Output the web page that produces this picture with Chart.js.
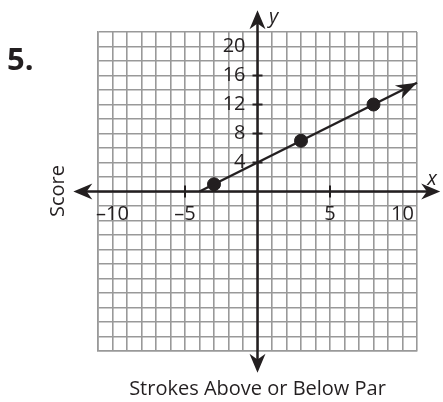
<!DOCTYPE html>
<html>
<head>
<meta charset="utf-8">
<script src="https://cdn.jsdelivr.net/npm/chart.js@4/dist/chart.umd.min.js"></script>
<style>
  html, body { margin: 0; padding: 0; background: #fff; }
  #chart { display: block; }
</style>
</head>
<body>
<canvas id="chart" width="443" height="402"></canvas>
<script>
// data
const pointX = [-3, 3, 8];
const pointY = [1, 7, 12];
const lineX = [-4, 11];      // line starts on the x axis, ends in an arrow
const lineY = [0, 15];
const xTickLabels = [-10, -5, 5, 10];
const yTickLabels = [4, 8, 12, 16, 20];
const xTickMarks = [-5, 5];
const yTickMarks = [4, 8, 12, 16];
const axisXEnds = [-12.7, 12.6]; // arrows of the axes go past the grid
const axisYEnds = [-25, 25];

const ink = '#231f20';
const font = '"Open Sans", sans-serif';

// arrowhead with a notch at the back
function arrowHead(ctx, x, y, angle, len, half) {
    ctx.save();
    ctx.translate(x, y);
    ctx.rotate(angle);
    ctx.beginPath();
    ctx.moveTo(0, 0);
    ctx.lineTo(-len, -half);
    ctx.lineTo(-len * 0.7, 0);
    ctx.lineTo(-len, half);
    ctx.closePath();
    ctx.fillStyle = ink;
    ctx.fill();
    ctx.restore();
}

const axesPlugin = {
    id: 'axesPlugin',
    afterDatasetsDraw(chart) {
        const ctx = chart.ctx;
        const xs = chart.scales.x;
        const ys = chart.scales.y;
        const x0 = xs.getPixelForValue(0);
        const y0 = ys.getPixelForValue(0);
        const xl = xs.getPixelForValue(axisXEnds[0]);
        const xr = xs.getPixelForValue(axisXEnds[1]);
        const yb = ys.getPixelForValue(axisYEnds[0]);
        const yt = ys.getPixelForValue(axisYEnds[1]);

        ctx.save();
        ctx.strokeStyle = ink;
        ctx.lineWidth = 2.5;
        ctx.beginPath();
        ctx.moveTo(xl + 8, y0); ctx.lineTo(xr - 8, y0);
        ctx.moveTo(x0, yt + 8); ctx.lineTo(x0, yb - 8);
        ctx.stroke();
        arrowHead(ctx, xl, y0, Math.PI, 19, 8);
        arrowHead(ctx, xr, y0, 0, 19, 8);
        arrowHead(ctx, x0, yt, -Math.PI / 2, 19, 8);
        arrowHead(ctx, x0, yb, Math.PI / 2, 19, 8);

        // tick marks
        ctx.lineWidth = 2;
        ctx.beginPath();
        xTickMarks.forEach(v => {
            const px = xs.getPixelForValue(v);
            ctx.moveTo(px, y0 - 6); ctx.lineTo(px, y0 + 6);
        });
        yTickMarks.forEach(v => {
            const py = ys.getPixelForValue(v);
            ctx.moveTo(x0 - 5, py); ctx.lineTo(x0 + 5, py);
        });
        ctx.stroke();

        // arrow on the line
        const meta = chart.getDatasetMeta(0);
        const p1 = meta.data[0], p2 = meta.data[1];
        const ang = Math.atan2(p2.y - p1.y, p2.x - p1.x);
        arrowHead(ctx, p2.x, p2.y, ang, 21, 7.5);

        // tick labels
        ctx.fillStyle = ink;
        ctx.font = '20px ' + font;
        ctx.textAlign = 'center';
        ctx.textBaseline = 'middle';
        xTickLabels.forEach(v => {
            const txt = v < 0 ? '\u2013' + Math.abs(v) : String(v);
            ctx.fillText(txt, xs.getPixelForValue(v), y0 + 23);
        });
        ctx.textAlign = 'right';
        yTickLabels.forEach(v => {
            ctx.fillText(String(v), x0 - 12, ys.getPixelForValue(v));
        });

        // axis letters
        ctx.font = 'italic 20px ' + font;
        ctx.textAlign = 'center';
        ctx.fillText('x', 432, y0 - 12);
        ctx.fillText('y', x0 + 16, 17);

        // titles
        ctx.font = '20px ' + font;
        ctx.fillText('Strokes Above or Below Par', x0, 389);
        ctx.save();
        ctx.translate(58, 191);
        ctx.rotate(-Math.PI / 2);
        ctx.fillText('Score', 0, 0);
        ctx.restore();

        ctx.font = 'bold 31px ' + font;
        ctx.textAlign = 'left';
        ctx.fillText('5.', 7, 61);
        ctx.restore();
    }
};

const ctx = document.getElementById('chart');
const config = {
    type: 'scatter',
    data: {
        datasets: [{
            label: 'line',
            data: lineX.map((x, i) => ({ x: x, y: lineY[i] })),
            showLine: true,
            borderColor: ink,
            borderWidth: 2.5,
            pointRadius: 0,
            clip: false
        }, {
            label: 'points',
            data: pointX.map((x, i) => ({ x: x, y: pointY[i] })),
            backgroundColor: ink,
            borderColor: ink,
            pointRadius: 6.5,
            clip: false
        }]
    },
    options: {
        responsive: false,
        animation: false,
        layout: { padding: { left: 98, right: 26, top: 32, bottom: 51 } },
        plugins: { legend: { display: false }, tooltip: { enabled: false } },
        scales: {
            x: {
                type: 'linear', min: -11, max: 11,
                ticks: { display: false, stepSize: 1 },
                grid: { color: '#999999', lineWidth: 1.6, drawTicks: false },
                border: { display: true, color: '#999999', width: 1.6 }
            },
            y: {
                type: 'linear', min: -22, max: 22,
                ticks: { display: false, stepSize: 2 },
                grid: { color: '#999999', lineWidth: 1.6, drawTicks: false },
                border: { display: true, color: '#999999', width: 1.6 }
            }
        }
    },
    plugins: [axesPlugin]
};
new Chart(ctx, config);
</script>
</body>
</html>
